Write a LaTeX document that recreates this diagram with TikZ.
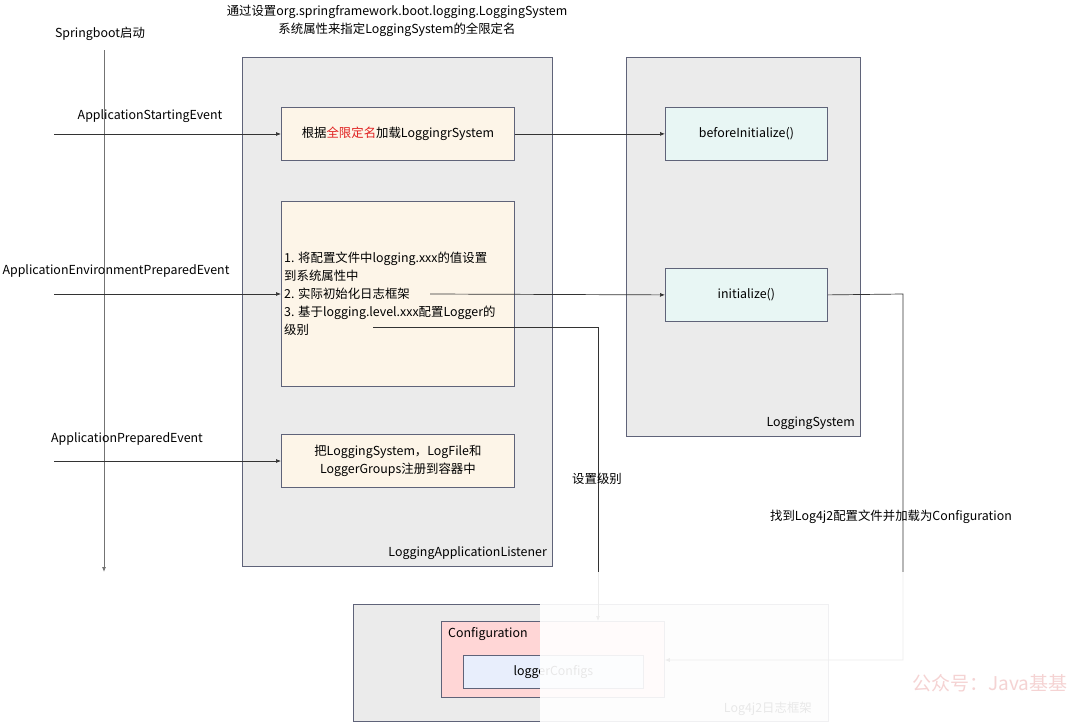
\documentclass[tikz,border=0pt]{standalone}
\usepackage{fontspec}
\setmainfont{Noto Sans CJK SC}
\usetikzlibrary{arrows.meta}
\definecolor{contfill}{HTML}{EBEBEB}
\definecolor{edgec}{HTML}{5F6379}
\definecolor{cream}{HTML}{FDF5E8}
\definecolor{mint}{HTML}{E8F6F4}
\definecolor{rose}{HTML}{FFD6D6}
\definecolor{lblue}{HTML}{E8EEFC}
\definecolor{linec}{HTML}{333333}
\definecolor{redt}{HTML}{E02020}
\definecolor{wmark}{HTML}{F5D3D3}
\begin{document}
\begin{tikzpicture}[x=1pt,y=-1pt,
  every node/.style={font=\fontsize{12.4}{18}\selectfont, text=black},
  cont/.style={draw=edgec, fill=contfill, line width=0.8pt},
  box/.style={draw=edgec, line width=0.8pt},
  conn/.style={draw=linec, line width=0.7pt, -{Latex[length=5pt,width=4pt]}},
  lbl/.style={inner sep=0pt}
]
\useasboundingbox (0,0) rectangle (1080,723);
\fill[white] (0,0) rectangle (1080,723);

% containers
\draw[cont] (242,57) rectangle (552,566);
\draw[cont] (626,57) rectangle (860,436);
\draw[cont] (353,604) rectangle (828,721);
\node[lbl, anchor=south east] (lalabel) at (547,560) {LoggingApplicationListener};
\node[lbl, anchor=south east] (lslabel) at (855,430) {LoggingSystem};
\node[lbl, anchor=south east] (l4label) at (812,716) {Log4j2日志框架};

% top labels
\node[lbl, align=center] (toptext) at (397,21) {通过设置org.springframework.boot.logging.LoggingSystem\\系统属性来指定LoggingSystem的全限定名};
\node[lbl] (sblabel) at (100,34) {Springboot启动};

% timeline
\coordinate (tl0) at (104,50);
\coordinate (tl1) at (104,572);
\draw[draw=gray!90!black, line width=0.8pt, -{Latex[length=5pt,width=4pt]}] (tl0) -- (tl1);

% boxes in listener
\node[box, fill=cream, minimum width=233pt, minimum height=53pt, anchor=north west, inner sep=0pt] (b1) at (281,107) {};
\node[lbl] (b1t) at (b1.center) {根据\textcolor{redt}{全限定名}加载LoggingrSystem};
\node[box, fill=cream, minimum width=233pt, minimum height=185pt, anchor=north west, inner sep=0pt] (b2) at (281,201) {};
\node[lbl, anchor=west, align=left] (b2t) at (284,294) {1. 将配置文件中logging.xxx的值设置\\到系统属性中\\2. 实际初始化日志框架\\3. 基于logging.level.xxx配置Logger的\\级别};
\node[box, fill=cream, minimum width=233pt, minimum height=53pt, anchor=north west, inner sep=0pt] (b3) at (281,434) {};
\node[lbl, align=center] (b3t) at (b3.center) {把LoggingSystem，LogFile和\\LoggerGroups注册到容器中};

% LoggingSystem boxes
\node[box, fill=mint, minimum width=162pt, minimum height=53pt, anchor=north west, inner sep=0pt] (bi) at (665,107) {};
\node[lbl] (bit) at (bi.center) {beforeInitialize()};
\node[box, fill=mint, minimum width=162pt, minimum height=53pt, anchor=north west, inner sep=0pt] (ini) at (665,268) {};
\node[lbl] (init) at (ini.center) {initialize()};

% Log4j2 boxes
\node[box, fill=rose, minimum width=223pt, minimum height=76pt, anchor=north west, inner sep=0pt] (cfg) at (441,621) {};
\node[lbl, anchor=north west] (cfgt) at (448,627) {Configuration};
\node[box, fill=lblue, minimum width=180pt, minimum height=33pt, anchor=north west, inner sep=0pt] (lc) at (463,655) {};
\node[lbl] (lct) at (lc.center) {loggerConfigs};

% event arrows
\coordinate (e1) at (54,134);
\coordinate (e2) at (54,294);
\coordinate (e3) at (54,461);
\node[lbl] (e1l) at (150,116) {ApplicationStartingEvent};
\node[lbl] (e2l) at (116,271) {ApplicationEnvironmentPreparedEvent};
\node[lbl] (e3l) at (127,439) {ApplicationPreparedEvent};
\draw[conn] (e1) -- (b1.west |- e1);
\draw[conn] (e2) -- (b2.west |- e2);
\draw[conn] (e3) -- (b3.west |- e3);

% box connections
\draw[conn] (b1.east) -- (bi.west);
\coordinate (s2) at (430,294);
\draw[conn] (s2) -- (ini.west);
\coordinate (s3) at (373,327);
\coordinate (k3) at (598,327);
\draw[conn] (s3) -- (k3) -- (k3 |- cfg.north);
\node[lbl] (setlvl) at (597,479) {设置级别};
\coordinate (k4) at (903,294);
\coordinate (k5) at (903,660);
\draw[conn] (ini.east) -- (k4) -- (k5) -- (cfg.east |- k5);
\node[lbl] (findl) at (891,517) {找到Log4j2配置文件并加载为Configuration};

% faded overlay
\fill[white, opacity=0.91] (540,572) rectangle (1080,723);
\node[lbl, text=wmark, font=\fontsize{19}{20}\selectfont] (wm) at (990,683) {公众号：Java基基};
\end{tikzpicture}
\end{document}
